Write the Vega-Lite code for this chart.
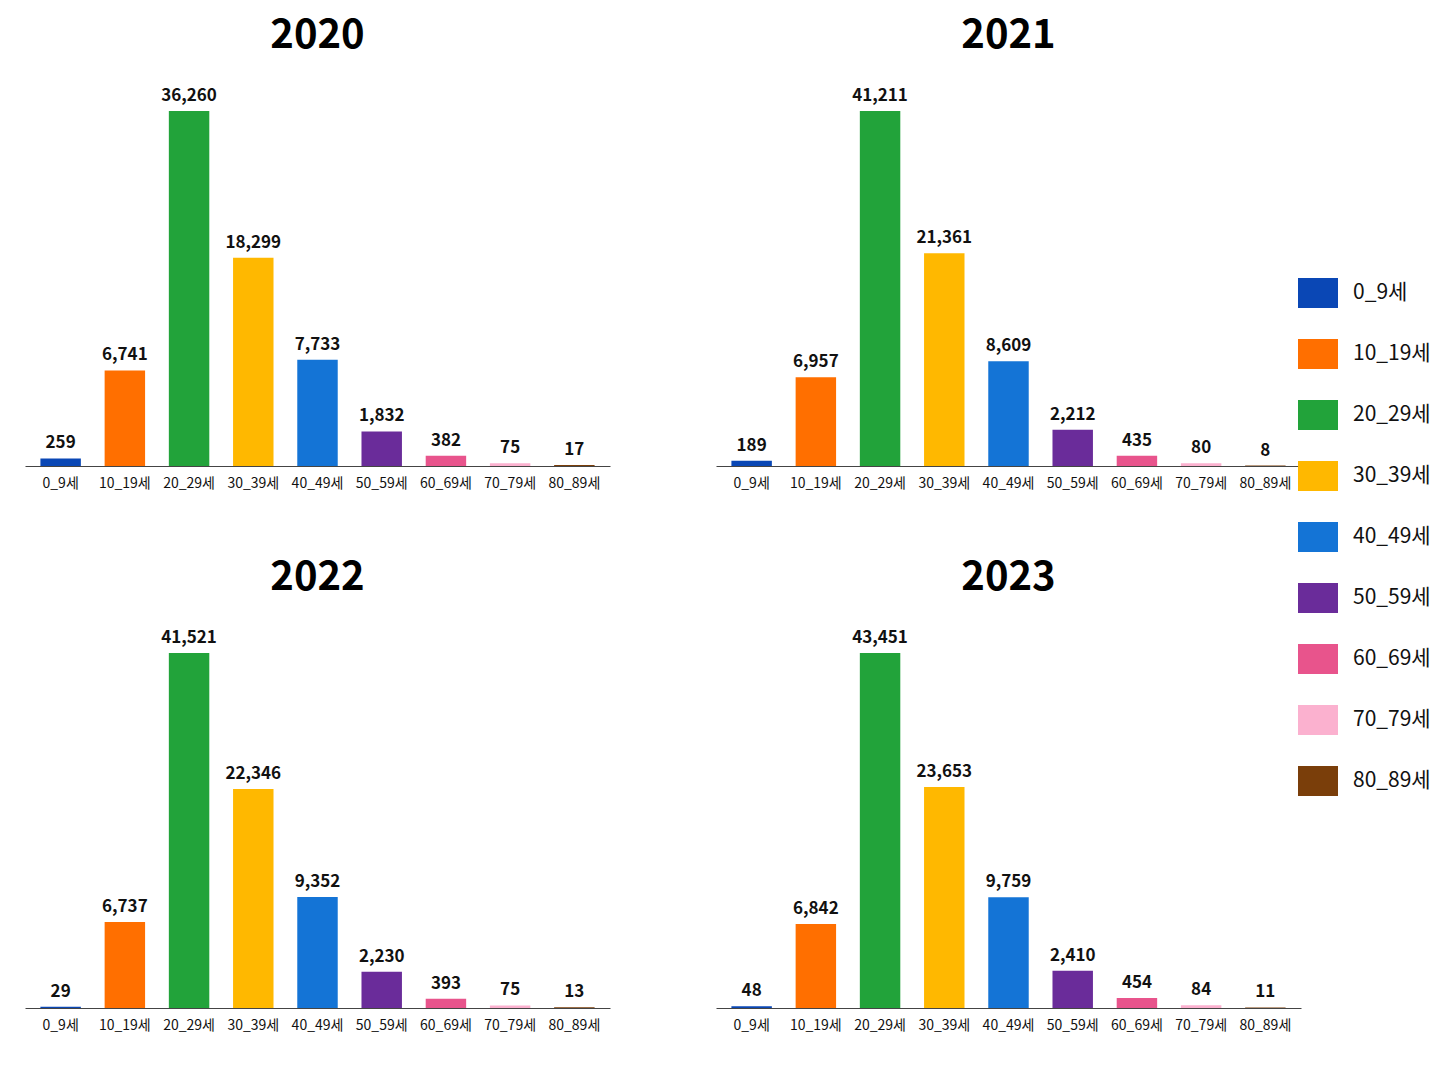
{
  "$schema": "https://vega.github.io/schema/vega-lite/v6.json",
  "padding": {"left": 25, "top": 16, "right": 5, "bottom": 5},
  "background": "white",
  "data": {
    "values": [
      {"year": "2020", "age": "0_9세", "count": 259},
      {"year": "2020", "age": "10_19세", "count": 6741},
      {"year": "2020", "age": "20_29세", "count": 36260},
      {"year": "2020", "age": "30_39세", "count": 18299},
      {"year": "2020", "age": "40_49세", "count": 7733},
      {"year": "2020", "age": "50_59세", "count": 1832},
      {"year": "2020", "age": "60_69세", "count": 382},
      {"year": "2020", "age": "70_79세", "count": 75},
      {"year": "2020", "age": "80_89세", "count": 17},
      {"year": "2021", "age": "0_9세", "count": 189},
      {"year": "2021", "age": "10_19세", "count": 6957},
      {"year": "2021", "age": "20_29세", "count": 41211},
      {"year": "2021", "age": "30_39세", "count": 21361},
      {"year": "2021", "age": "40_49세", "count": 8609},
      {"year": "2021", "age": "50_59세", "count": 2212},
      {"year": "2021", "age": "60_69세", "count": 435},
      {"year": "2021", "age": "70_79세", "count": 80},
      {"year": "2021", "age": "80_89세", "count": 8},
      {"year": "2022", "age": "0_9세", "count": 29},
      {"year": "2022", "age": "10_19세", "count": 6737},
      {"year": "2022", "age": "20_29세", "count": 41521},
      {"year": "2022", "age": "30_39세", "count": 22346},
      {"year": "2022", "age": "40_49세", "count": 9352},
      {"year": "2022", "age": "50_59세", "count": 2230},
      {"year": "2022", "age": "60_69세", "count": 393},
      {"year": "2022", "age": "70_79세", "count": 75},
      {"year": "2022", "age": "80_89세", "count": 13},
      {"year": "2023", "age": "0_9세", "count": 48},
      {"year": "2023", "age": "10_19세", "count": 6842},
      {"year": "2023", "age": "20_29세", "count": 43451},
      {"year": "2023", "age": "30_39세", "count": 23653},
      {"year": "2023", "age": "40_49세", "count": 9759},
      {"year": "2023", "age": "50_59세", "count": 2410},
      {"year": "2023", "age": "60_69세", "count": 454},
      {"year": "2023", "age": "70_79세", "count": 84},
      {"year": "2023", "age": "80_89세", "count": 11}
    ]
  },
  "facet": {
    "field": "year",
    "type": "ordinal",
    "header": {
      "title": null,
      "labelFont": "Noto Sans CJK KR",
      "labelFontSize": 40,
      "labelFontWeight": "bold",
      "labelColor": "#000000",
      "labelPadding": 31
    }
  },
  "columns": 2,
  "spacing": {"row": 68, "column": 106},
  "spec": {
    "width": 585,
    "height": 355,
    "encoding": {
      "x": {
        "field": "age",
        "type": "nominal",
        "sort": null,
        "scale": {"paddingInner": 0.37, "paddingOuter": 0.24},
        "axis": {
          "title": null,
          "labelAngle": 0,
          "ticks": false,
          "labelFontSize": 14,
          "labelPadding": 10,
          "labelColor": "#111111",
          "domainColor": "#444444"
        }
      },
      "y": {
        "field": "count",
        "type": "quantitative",
        "scale": {"type": "pow", "exponent": 0.78, "zero": true, "nice": false},
        "axis": null
      }
    },
    "layer": [
      {
        "mark": {"type": "bar"},
        "encoding": {
          "color": {
            "field": "age",
            "type": "nominal",
            "sort": null,
            "scale": {
              "domain": ["0_9세", "10_19세", "20_29세", "30_39세", "40_49세", "50_59세", "60_69세", "70_79세", "80_89세"],
              "range": ["#0A47B5", "#FF6F00", "#22A33A", "#FFB800", "#1474D6", "#6A2C9A", "#E8548C", "#FBB1CF", "#7A3E0A"]
            },
            "legend": {
              "title": null,
              "orient": "none",
              "legendX": 1273,
              "legendY": 162,
              "symbolType": "M-1,-0.75H1V0.75H-1Z",
              "symbolSize": 1600,
              "symbolStrokeWidth": 0,
              "symbolOpacity": 1,
              "labelFontSize": 21,
              "labelColor": "#111111",
              "labelOffset": 15,
              "rowPadding": 26
            }
          }
        }
      },
      {
        "mark": {"type": "text", "baseline": "bottom", "dy": -6, "fontSize": 17, "fontWeight": "bold", "color": "#111111"},
        "encoding": {
          "text": {"field": "count", "type": "quantitative", "format": ","}
        }
      }
    ]
  },
  "resolve": {"scale": {"y": "independent"}, "axis": {"x": "independent"}},
  "config": {
    "view": {"stroke": null},
    "font": "Noto Sans CJK KR"
  }
}
